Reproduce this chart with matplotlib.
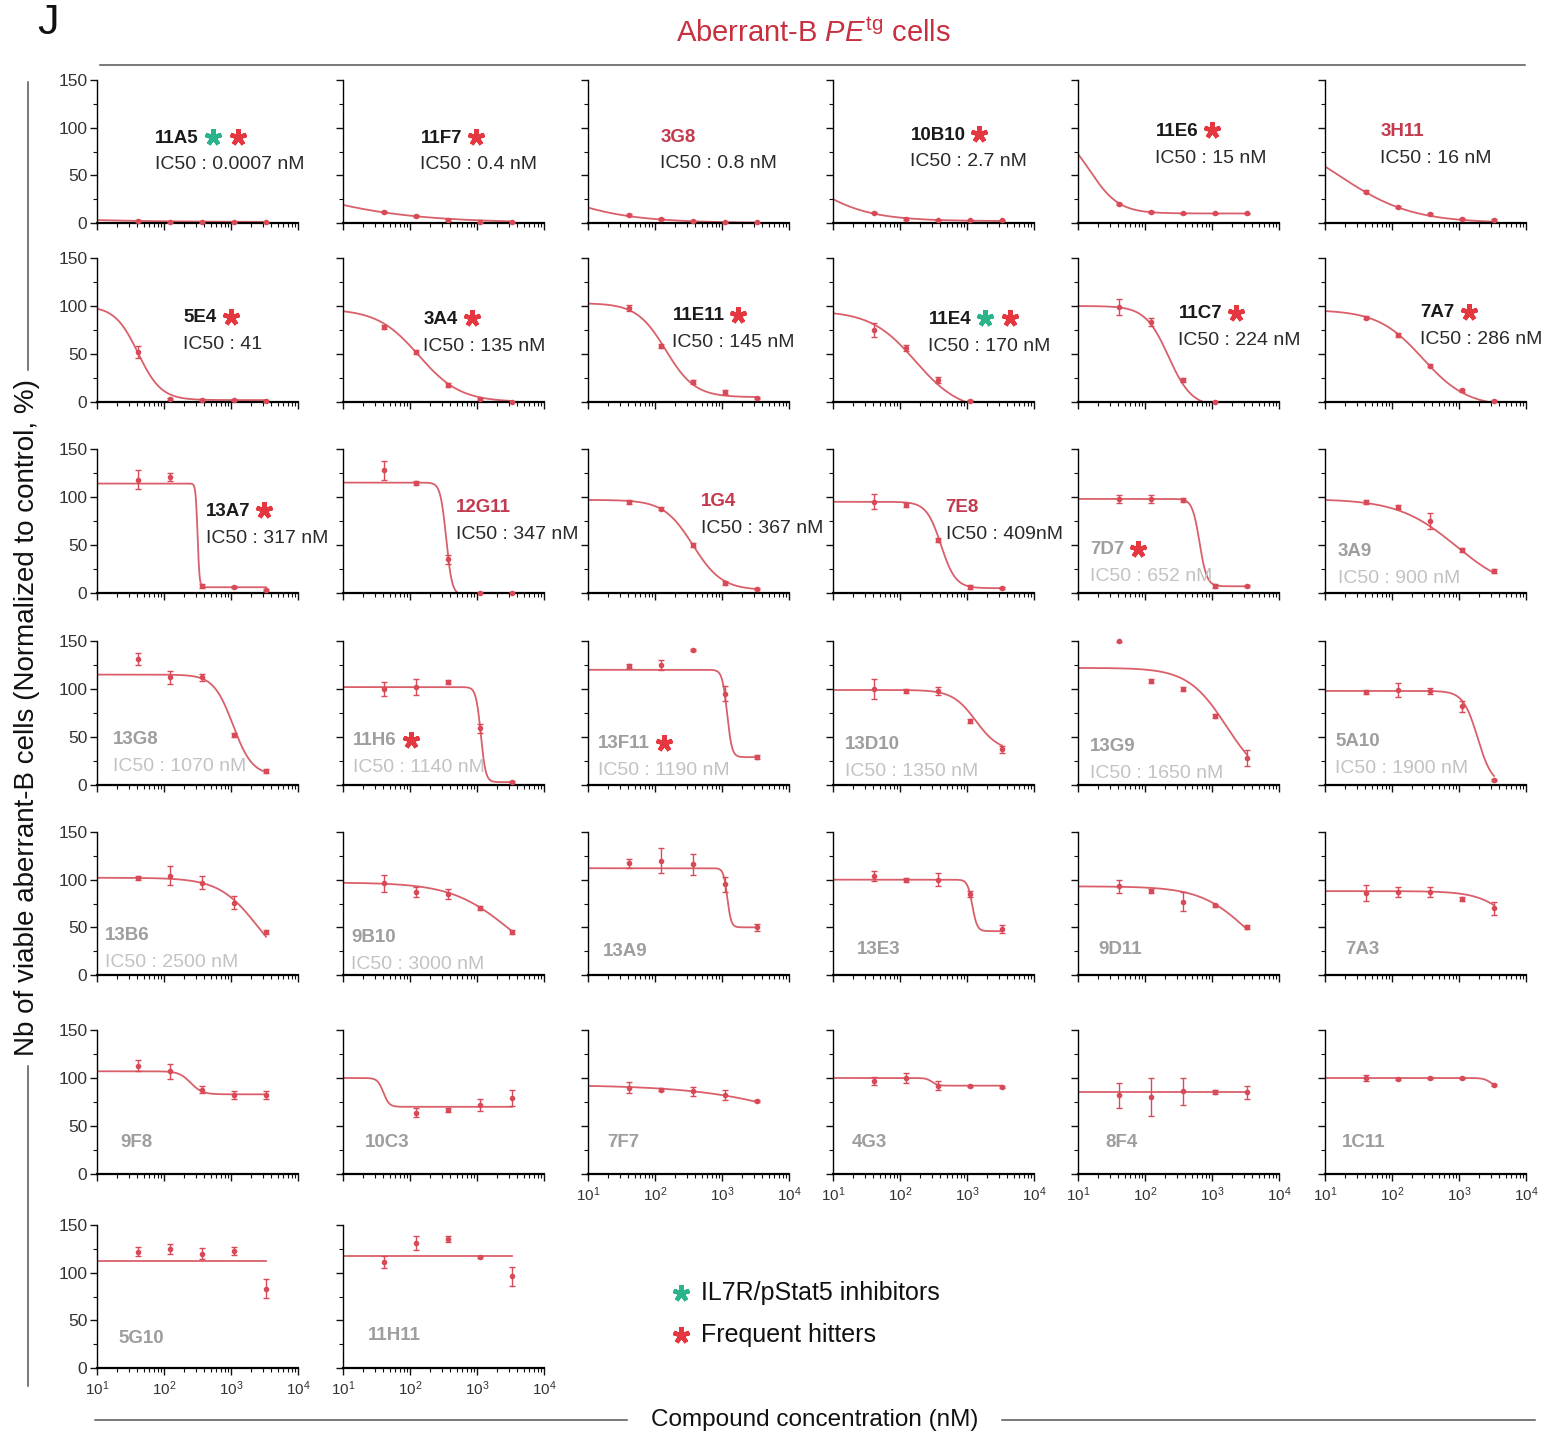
import numpy as np
import matplotlib
matplotlib.use("Agg")
import matplotlib.pyplot as plt
from matplotlib import font_manager
from matplotlib.lines import Line2D
from matplotlib.transforms import blended_transform_factory
from matplotlib.ticker import FixedLocator, LogLocator, NullFormatter

# ---------------------------------------------------------------- fonts
available = {f.name for f in font_manager.fontManager.ttflist}


def pick(*names):
    for n in names:
        if n in available:
            return n
    return "DejaVu Sans"


SANS = pick("Liberation Sans", "Arial", "DejaVu Sans")
NARROW = pick("Liberation Sans Narrow", SANS)
plt.rcParams["font.family"] = [SANS, "DejaVu Sans"]
plt.rcParams["mathtext.fontset"] = "custom"
plt.rcParams["mathtext.rm"] = SANS
plt.rcParams["mathtext.it"] = SANS + ":italic"
plt.rcParams["mathtext.bf"] = SANS + ":bold"

# ---------------------------------------------------------------- data
concentration_nM = [41, 123, 370, 1111, 3333]

compounds = [
    "11A5", "11F7", "3G8", "10B10", "11E6", "3H11",
    "5E4", "3A4", "11E11", "11E4", "11C7", "7A7",
    "13A7", "12G11", "1G4", "7E8", "7D7", "3A9",
    "13G8", "11H6", "13F11", "13D10", "13G9", "5A10",
    "13B6", "9B10", "13A9", "13E3", "9D11", "7A3",
    "9F8", "10C3", "7F7", "4G3", "8F4", "1C11",
    "5G10", "11H11",
]

# IC50 reported for each compound (nM); None where no IC50 is given
ic50_nM = [
    0.0007, 0.4, 0.8, 2.7, 15, 16,
    41, 135, 145, 170, 224, 286,
    317, 347, 367, 409, 652, 900,
    1070, 1140, 1190, 1350, 1650, 1900,
    2500, 3000, None, None, None, None,
    None, None, None, None, None, None,
    None, None,
]

ic50_text = [
    "IC50 : 0.0007 nM", "IC50 : 0.4 nM", "IC50 : 0.8 nM", "IC50 : 2.7 nM",
    "IC50 : 15 nM", "IC50 : 16 nM",
    "IC50 : 41", "IC50 : 135 nM", "IC50 : 145 nM", "IC50 : 170 nM",
    "IC50 : 224 nM", "IC50 : 286 nM",
    "IC50 : 317 nM", "IC50 : 347 nM", "IC50 : 367 nM", "IC50 : 409nM",
    "IC50 : 652 nM", "IC50 : 900 nM",
    "IC50 : 1070 nM", "IC50 : 1140 nM", "IC50 : 1190 nM", "IC50 : 1350 nM",
    "IC50 : 1650 nM", "IC50 : 1900 nM",
    "IC50 : 2500 nM", "IC50 : 3000 nM",
] + [None] * 12

# compound class: "k" potent, "r" potent (highlighted), "g" weak / inactive
name_class = [
    "k", "k", "r", "k", "k", "r",
    "k", "k", "k", "k", "k", "k",
    "k", "r", "r", "r", "g", "g",
] + ["g"] * 20

# flags: I = IL7R/pStat5 inhibitor, F = frequent hitter
flags = [
    "IF", "F", "", "F", "F", "",
    "F", "F", "F", "IF", "F", "F",
    "F", "", "", "", "F", "",
    "", "F", "F", "", "", "",
] + [""] * 14

nan = np.nan
viability_mean = [
    [2, 1, 1, 1, 1], [12, 7, 3, 1, 1], [8, 4, 2, 1, 1], [11, 4, 3, 3, 3],
    [20, 12, 10, 10, 10], [33, 17, 9, 4, 3],
    [52, 3, 2, 2, 1], [78, 52, 18, 3, 0], [98, 58, 21, 10, 4],
    [75, 56, 23, 1, nan], [99, 83, 23, 0, nan], [88, 70, 38, 12, 1],
    [118, 121, 7, 6, 3], [128, 115, 35, 0, 0], [95, 88, 50, 10, 4],
    [95, 92, 55, 6, 5], [98, 98, 97, 7, 7], [95, 90, 75, 45, 23],
    [131, 112, 112, 52, 15], [100, 102, 107, 59, 3], [124, 125, 141, 95, 29],
    [100, 98, 98, 67, 37], [150, 108, 100, 72, 28], [97, 99, 98, 82, 5],
    [102, 104, 97, 76, 45], [96, 87, 85, 70, 45], [117, 120, 116, 95, 50],
    [104, 100, 100, 85, 48], [93, 88, 77, 73, 50], [86, 87, 87, 80, 70],
    [113, 107, 88, 82, 82], [nan, 64, 67, 72, 79], [90, 88, 86, 82, 76],
    [97, 100, 92, 92, 91], [82, 80, 86, 85, 85], [100, 99, 100, 100, 93],
    [122, 125, 120, 123, 83], [111, 131, 135, 116, 96],
]

viability_sem = [
    [1, 0.5, 0.5, 0.5, 0.5], [1, 1, 1, 0.5, 0.5], [1, 1, 0.5, 0.5, 0.5],
    [1, 1, 0.5, 0.5, 0.5], [1.5, 1, 1, 1, 1], [1.5, 1, 1, 1, 1],
    [6, 1, 1, 1, 1], [2, 2, 2, 1, 1], [3, 2, 2, 2, 1],
    [7, 3, 3, 1, 0], [8, 4, 2, 1, 0], [2, 2, 2, 2, 1],
    [10, 4, 2, 1, 1], [10, 2, 5, 1, 1], [2, 2, 2, 2, 1],
    [8, 2, 2, 2, 1], [4, 4, 2, 2, 1], [2, 2, 8, 2, 2],
    [6, 7, 4, 2, 2], [7, 8, 2, 5, 1], [2, 5, 1, 8, 2],
    [10, 2, 4, 2, 4], [1, 2, 2, 2, 8], [2, 7, 3, 6, 1],
    [2, 10, 7, 7, 2], [9, 5, 5, 2, 2], [5, 13, 11, 8, 4],
    [5, 2, 7, 3, 4], [7, 2, 10, 2, 2], [8, 5, 5, 2, 7],
    [6, 8, 4, 4, 4], [0, 5, 2, 6, 8], [6, 2, 5, 5, 1],
    [4, 5, 5, 1, 1], [13, 20, 14, 2, 7], [3, 1, 1, 1, 1],
    [5, 5, 6, 4, 10], [6, 7, 3, 1, 10],
]

# four-parameter logistic fits: top, bottom, midpoint (nM), Hill slope
fit_top = [
    100, 100, 100, 100, 100, 100,
    100, 97, 103, 95, 100, 96,
    114, 115, 97, 95, 98, 98,
    115, 102, 120, 99, 122, 98,
    102, 97, 112, 100, 93, 88,
    107, 100, 93, 100, 85, 100,
    112, 117,
]
fit_bottom = [
    1, 0, 0, 2, 10, 0,
    2, 0, 5, -10, -5, -5,
    6, -2, 3, 5, 7, 0,
    10, 3, 29, 35, 0, 0,
    0, 0, 50, 46, 0, 0,
    83, 70, 0, 92, 85, 90,
    112, 117,
]
fit_mid_unlabelled = {"13A9": 1200, "13E3": 1200, "9D11": 3500, "7A3": 9000,
                      "9F8": 250, "10C3": 40, "7F7": 58000, "4G3": 300,
                      "8F4": 1000, "1C11": 3000, "5G10": 1000, "11H11": 1000}
fit_hill = [
    0.4, 0.45, 0.65, 0.9, 2, 0.8,
    2.5, 1.4, 2, 1.3, 2.5, 1.3,
    30, 10, 2, 4, 8, 1,
    3, 12, 12, 2.5, 1.5, 4,
    1.5, 1, 15, 12, 1.2, 1.6,
    5, 10, 0.5, 10, 1, 8,
    1, 1,
]

# ---------------------------------------------------------------- layout
W, H = 1543, 1434
col_left = [97, 343, 588, 833, 1078, 1325]
row_span = [(80, 223), (258, 402), (449, 593), (641, 785),
            (832, 975), (1030, 1174), (1225, 1368)]
panel_w = 201
xlabel_panels = {32, 33, 34, 35, 36, 37}

# label anchor (fraction of panel width, y in data units) for each panel
label_pos = [
    (0.29, 89), (0.385, 89), (0.36, 90), (0.385, 92), (0.385, 96), (0.275, 96),
    (0.43, 88), (0.40, 86), (0.42, 90), (0.475, 86), (0.50, 92), (0.475, 93),
    (0.54, 85), (0.56, 89), (0.56, 95), (0.56, 89), (0.06, 45), (0.065, 43),
    (0.08, 47), (0.05, 46), (0.05, 43), (0.06, 42), (0.06, 40), (0.05, 45),
    (0.04, 41), (0.04, 39), (0.075, 25), (0.12, 27), (0.10, 27), (0.10, 27),
    (0.115, 33), (0.11, 33), (0.095, 33), (0.095, 33), (0.135, 33), (0.085, 33),
    (0.105, 31), (0.125, 34),
]

CURVE = "#d9606a"
POINT = "#d84a57"
NAME_COLORS = {"k": "#1a1a1a", "r": "#c33a4e", "g": "#9e9e9e"}
IC50_COLORS = {"k": "#2a2a2a", "r": "#2a2a2a", "g": "#c2c2c2"}
STAR_GREEN = "#2bb38c"
STAR_RED = "#e5373f"

fig = plt.figure(figsize=(W / 100, H / 100), dpi=100)


def fx(x):
    return x / W


def fy(y):
    return 1 - y / H


star_requests = []

for i, name in enumerate(compounds):
    r, c = divmod(i, 6)
    y150, y0 = row_span[r]
    ax = fig.add_axes([fx(col_left[c]), fy(y0), panel_w / W, (y0 - y150) / H])
    ax.set_xscale("log")
    ax.set_xlim(10, 1e4)
    ax.set_ylim(0, 150)
    for s in ("top", "right"):
        ax.spines[s].set_visible(False)
    ax.spines["left"].set_linewidth(1.0)
    ax.spines["bottom"].set_linewidth(1.6)
    ax.set_yticks([0, 50, 100, 150])
    ax.set_yticks([25, 75, 125], minor=True)
    ax.xaxis.set_major_locator(FixedLocator([10, 100, 1000, 10000]))
    ax.xaxis.set_minor_locator(LogLocator(base=10, subs=np.arange(2, 10)))
    ax.xaxis.set_minor_formatter(NullFormatter())
    ax.tick_params(which="major", direction="out", length=5, width=1.0,
                   colors="#111111", labelcolor="#333333")
    ax.tick_params(which="minor", direction="out", length=3, width=0.8,
                   colors="#111111")
    ax.tick_params(axis="y", labelsize=12.5, pad=2)
    ax.tick_params(axis="x", labelsize=11, pad=3)
    if c == 0:
        ax.set_yticklabels(["0", "50", "100", "150"])
    else:
        ax.tick_params(axis="y", labelleft=False)
    if i in xlabel_panels:
        ax.set_xticklabels([r"$10^{1}$", r"$10^{2}$", r"$10^{3}$", r"$10^{4}$"])
    else:
        ax.tick_params(axis="x", labelbottom=False)

    # fitted dose-response curve
    mid = ic50_nM[i] if ic50_nM[i] is not None else fit_mid_unlabelled[name]
    xs = np.logspace(1, np.log10(concentration_nM[-1]), 400)
    ys = fit_bottom[i] + (fit_top[i] - fit_bottom[i]) / (1 + (xs / mid) ** fit_hill[i])
    ax.plot(xs, ys, color=CURVE, lw=1.3, zorder=2)

    # measured points with error bars
    mean = np.array(viability_mean[i], dtype=float)
    sem = np.array(viability_sem[i], dtype=float)
    ok = ~np.isnan(mean)
    eb = ax.errorbar(np.array(concentration_nM)[ok], mean[ok], yerr=sem[ok], fmt="o",
                     ms=3, color=POINT, ecolor=POINT, elinewidth=1.0, capsize=2.2,
                     capthick=1.0, zorder=3)
    eb.lines[0].set_clip_on(False)

    # compound name and IC50
    cls = name_class[i]
    tr = blended_transform_factory(ax.transAxes, ax.transData)
    lx, ly = label_pos[i]
    t = ax.text(lx, ly, name, transform=tr, family=[NARROW, "DejaVu Sans"],
                fontweight="bold", fontsize=13.5, color=NAME_COLORS[cls],
                va="center", ha="left", zorder=5)
    if ic50_text[i] is not None:
        ax.text(lx, ly - 28, ic50_text[i], transform=tr,
                family=[NARROW, "DejaVu Sans"], fontsize=14,
                color=IC50_COLORS[cls], va="center", ha="left", zorder=5)
    if flags[i]:
        star_requests.append((t, flags[i]))

# ---------------------------------------------------------------- figure text
fig.text(fx(37), fy(34), "J", fontsize=31, color="#111111", va="baseline", ha="left")
fig.text(fx(813), fy(33), r"Aberrant-B $\mathit{PE}^{\mathrm{tg}}$ cells",
         fontsize=21, color="#c8303f", ha="center", va="center")
fig.add_artist(Line2D([fx(100), fx(1525)], [fy(65), fy(65)],
                      transform=fig.transFigure, color="#555555", lw=1.1))

fig.text(fx(27), fy(718), "Nb of viable aberrant-B cells (Normalized to control, %)",
         rotation=90, fontsize=20, color="#111111", ha="center", va="center")
fig.add_artist(Line2D([fx(28), fx(28)], [fy(82), fy(370)],
                      transform=fig.transFigure, color="#555555", lw=1.1))
fig.add_artist(Line2D([fx(28), fx(28)], [fy(1066), fy(1386)],
                      transform=fig.transFigure, color="#555555", lw=1.1))

fig.text(fx(815), fy(1420), "Compound concentration (nM)", fontsize=17.5,
         color="#111111", ha="center", va="center")
fig.add_artist(Line2D([fx(95), fx(627)], [fy(1420), fy(1420)],
                      transform=fig.transFigure, color="#555555", lw=1.1))
fig.add_artist(Line2D([fx(1002), fx(1535)], [fy(1420), fy(1420)],
                      transform=fig.transFigure, color="#555555", lw=1.1))

# legend
STAR_MARKER = (5, 2, 0)
for yy, col, label in ((1293, STAR_GREEN, "IL7R/pStat5 inhibitors"),
                       (1335, STAR_RED, "Frequent hitters")):
    fig.add_artist(Line2D([fx(681)], [fy(yy)], transform=fig.transFigure,
                          marker=STAR_MARKER, ms=12, mew=3.2, color=col, ls="none"))
    fig.text(fx(701), fy(yy), label, fontsize=18, color="#111111",
             ha="left", va="center")

# stars next to flagged compound names
fig.canvas.draw()
renderer = fig.canvas.get_renderer()
for t, fl in star_requests:
    bb = t.get_window_extent(renderer)
    x = bb.x1 + 14
    yc = (bb.y0 + bb.y1) / 2 + 1
    for ch in fl:
        col = STAR_GREEN if ch == "I" else STAR_RED
        fig.add_artist(Line2D([x / fig.bbox.width], [yc / fig.bbox.height],
                              transform=fig.transFigure, marker=STAR_MARKER,
                              ms=12, mew=3.2, color=col, ls="none"))
        x += 25

fig.savefig("out.png", dpi=100)
